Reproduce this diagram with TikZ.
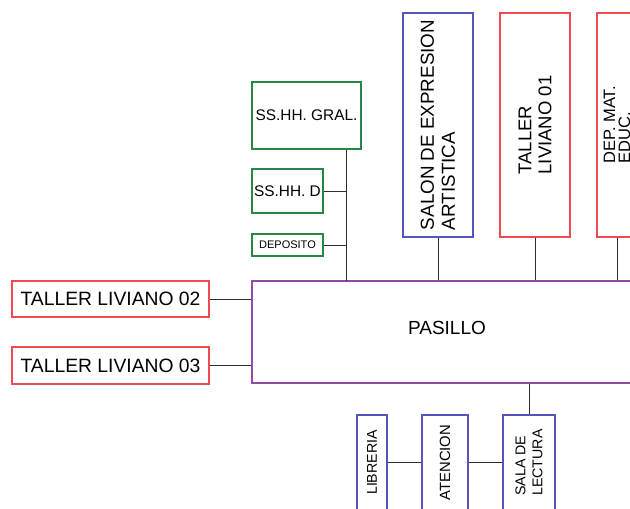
\documentclass[tikz,border=0pt]{standalone}
\usepackage{fontspec}
\setmainfont{Liberation Sans}
\definecolor{boxgreen}{RGB}{40,135,70}
\definecolor{boxblue}{RGB}{85,85,185}
\definecolor{boxred}{RGB}{240,75,85}
\definecolor{boxpurple}{RGB}{145,75,165}
\definecolor{linegray}{RGB}{45,45,45}

\begin{document}
\begin{tikzpicture}[
        x=1pt, y=-1pt,
        box/.style={rectangle, draw, line width=1.1pt, fill=white, inner sep=1pt, align=center},
        vbox/.style={box, rotate=90, align=left},
        link/.style={draw=linegray, line width=1pt}
    ]
        \clip (0,0) rectangle (630,509);
        % servicios
        \node[box, draw=boxgreen, minimum width=109pt, minimum height=67pt, font=\fontsize{15.4}{17}\selectfont] (gral) at (306.5,115.5) {SS.HH. GRAL.};
        \node[box, draw=boxgreen, minimum width=71pt, minimum height=44pt, font=\fontsize{15.4}{17}\selectfont] (ssd) at (287.5,191) {SS.HH. D};
        \node[box, draw=boxgreen, minimum width=71pt, minimum height=22pt, font=\fontsize{11}{12}\selectfont] (depo) at (287.5,245) {DEPOSITO};
        \coordinate (bus) at (346,281);
        
        % pasillo
        \node[box, draw=boxpurple, minimum width=390pt, minimum height=102pt, text depth=8pt, font=\fontsize{19}{21}\selectfont] (pasillo) at (447,332) {PASILLO};
        
        % arriba
        \node[vbox, draw=boxblue, minimum width=224pt, minimum height=70pt, font=\fontsize{18.8}{21}\selectfont] (salon) at (438,125) {SALON DE EXPRESION\\ARTISTICA};
        \node[vbox, draw=boxred, minimum width=224pt, minimum height=70pt, font=\fontsize{18.5}{20}\selectfont] (t01) at (535,125) {TALLER\\LIVIANO 01};
        \node[vbox, draw=boxred, minimum width=224pt, minimum height=40pt, font=\fontsize{16.5}{15}\selectfont] (dep) at (617,125) {DEP. MAT.\\EDUC.};
        
        % izquierda
        \node[box, draw=boxred, minimum width=197pt, minimum height=36pt, font=\fontsize{19.3}{21}\selectfont] (t02) at (110.5,299) {TALLER LIVIANO 02};
        \node[box, draw=boxred, minimum width=197pt, minimum height=37pt, font=\fontsize{19.3}{21}\selectfont] (t03) at (110.5,365.5) {TALLER LIVIANO 03};
        
        % abajo
        \node[vbox, draw=boxblue, minimum width=95pt, minimum height=30pt, font=\fontsize{14.2}{15}\selectfont] (lib) at (372,462.5) {LIBRERIA};
        \node[vbox, draw=boxblue, minimum width=95pt, minimum height=46pt, font=\fontsize{14.8}{15}\selectfont] (aten) at (445,462.5) {ATENCION};
        \node[vbox, draw=boxblue, minimum width=95pt, minimum height=52pt, font=\fontsize{14.2}{17}\selectfont] (sala) at (529,462.5) {SALA DE\\LECTURA};
        
        % conexiones (rotated boxes: south = right side, north = left side, east = top)
        \draw[link] (gral.south -| bus) -- (bus);
        \draw[link] (ssd.east) -- (ssd.east -| bus);
        \draw[link] (depo.east) -- (depo.east -| bus);
        \draw[link] (salon.west) -- (salon.west |- pasillo.north);
        \draw[link] (t01.west) -- (t01.west |- pasillo.north);
        \draw[link] (dep.west) -- (dep.west |- pasillo.north);
        \draw[link] (t02.east) -- (t02.east -| pasillo.west);
        \draw[link] (t03.east) -- (t03.east -| pasillo.west);
        \draw[link] (lib.south) -- (aten.north);
        \draw[link] (aten.south) -- (sala.north);
        \draw[link] (sala.east) -- (sala.east |- pasillo.south);
    \end{tikzpicture}
\end{document}
